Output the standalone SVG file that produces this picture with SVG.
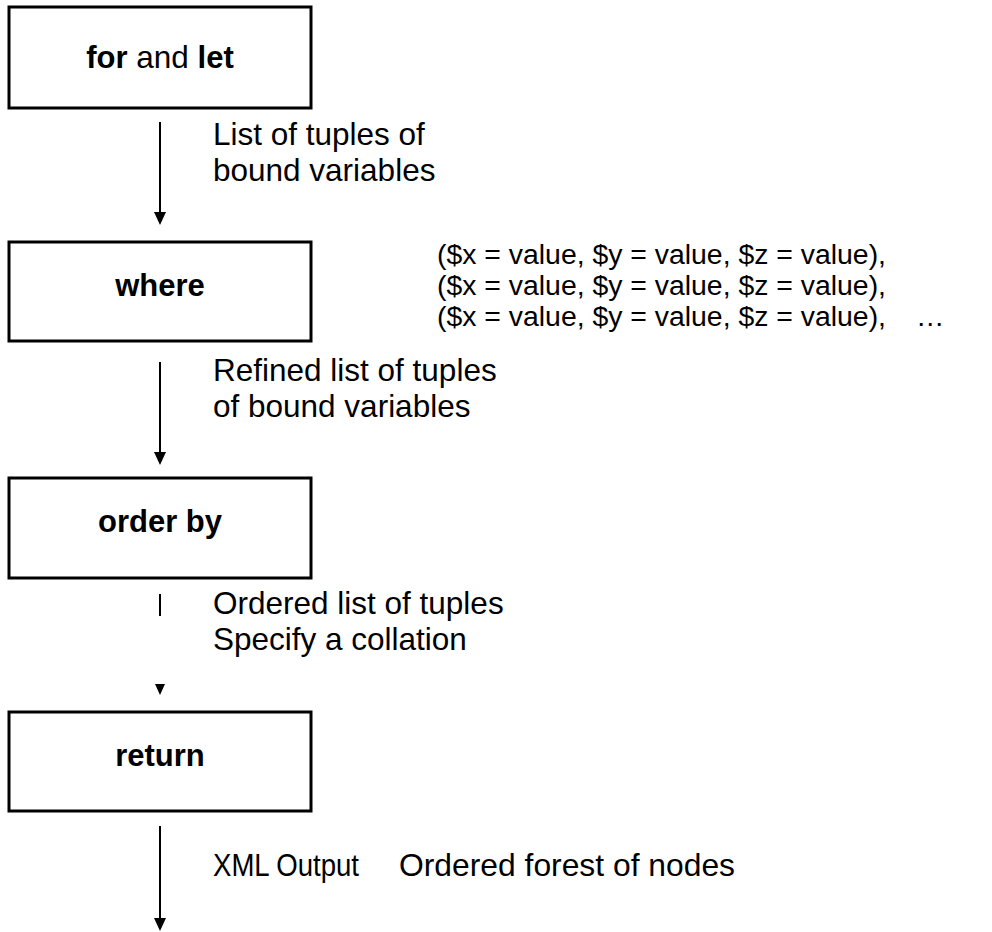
<svg xmlns="http://www.w3.org/2000/svg" width="992" height="932" viewBox="0 0 992 932">
<style>
.box{fill:#fff;stroke:#000;stroke-width:3}
.t{font-family:"Liberation Sans",Arial,sans-serif;font-size:31.5px;fill:#000}
.b{font-weight:bold;font-size:31px}
.tp{font-family:"Liberation Sans",Arial,sans-serif;font-size:28.4px;fill:#000}
.ln{stroke:#000;stroke-width:2;fill:none}
.ah{fill:#000}
</style>
<rect width="992" height="932" fill="#fff"/>
<g id="node-for-let">
<rect class="box" x="9" y="7" width="302" height="101"/>
<text class="t" x="160" y="68" text-anchor="middle" font-size="31"><tspan class="b">for</tspan> and <tspan class="b">let</tspan></text>
</g>
<g id="node-where">
<rect class="box" x="9" y="242" width="302" height="99"/>
<text class="t b" x="160" y="296" text-anchor="middle">where</text>
</g>
<g id="node-order-by">
<rect class="box" x="9" y="478" width="302" height="100"/>
<text class="t b" x="160" y="532" text-anchor="middle">order by</text>
</g>
<g id="node-return">
<rect class="box" x="9" y="712" width="302" height="99"/>
<text class="t b" x="160" y="766" text-anchor="middle">return</text>
</g>
<g id="tuples">
<text class="tp" x="437" y="264">($x = value, $y = value, $z = value),</text>
<text class="tp" x="437" y="295">($x = value, $y = value, $z = value),</text>
<text class="tp" x="437" y="326">($x = value, $y = value, $z = value),<tspan x="916">…</tspan></text>
</g>
<g id="connectors">
<line class="ln" x1="160" y1="122" x2="160" y2="213"/>
<path class="ah" d="M154,212 L166,212 L160,225 Z"/>
<line class="ln" x1="160" y1="362" x2="160" y2="453"/>
<path class="ah" d="M154,452 L166,452 L160,465 Z"/>
<line class="ln" x1="160" y1="594" x2="160" y2="616"/>
<path class="ah" d="M155,684 L165,684 L160,695 Z"/>
<line class="ln" x1="160" y1="826" x2="160" y2="919"/>
<path class="ah" d="M154,918 L166,918 L160,931 Z"/>
</g>
<g id="labels">
<text class="t" x="213" y="145">List of tuples of</text>
<text class="t" x="213" y="181">bound variables</text>
<text class="t" x="213" y="381">Refined list of tuples</text>
<text class="t" x="213" y="417">of bound variables</text>
<text class="t" x="213" y="614">Ordered list of tuples</text>
<text class="t" x="213" y="650">Specify a collation</text>
<text class="t" x="213" y="876" textLength="146" lengthAdjust="spacingAndGlyphs">XML Output</text>
<text class="t" x="399" y="876" textLength="336" lengthAdjust="spacingAndGlyphs">Ordered forest of nodes</text>
</g>
</svg>
